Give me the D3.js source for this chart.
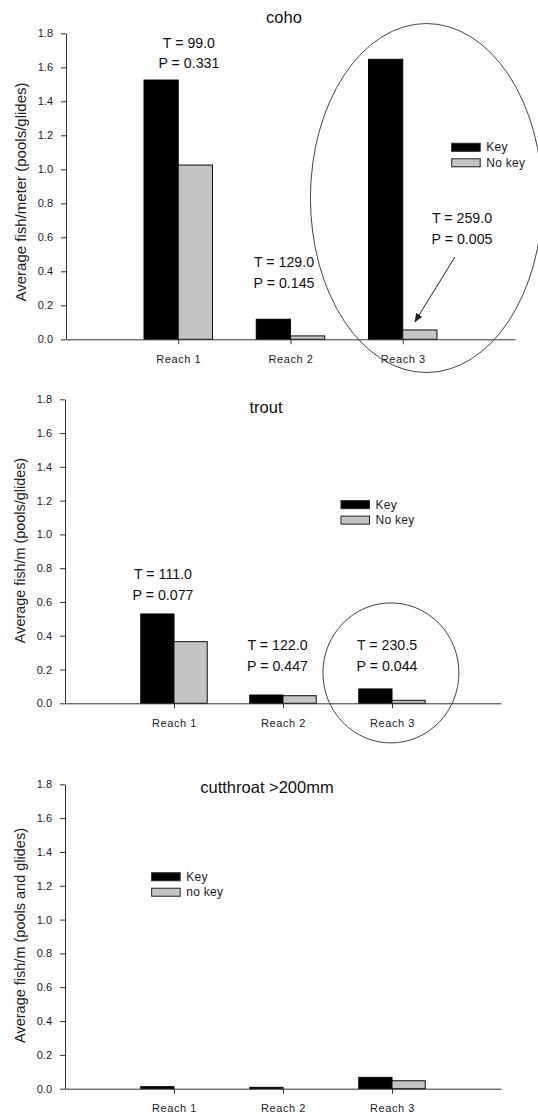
<!DOCTYPE html>
<html>
<head>
<meta charset="utf-8">
<script src="https://cdn.jsdelivr.net/npm/d3@7/dist/d3.min.js"></script>
<style>
  html, body { margin: 0; padding: 0; background: #fff; }
  svg { display: block; }
  .tick text { font-family: "Liberation Sans", Arial, sans-serif; fill: #1a1a2a; }
</style>
</head>
<body>
<svg id="chart" width="538" height="1114"></svg>
<script>
// ---------- data ----------
const reaches = ["Reach 1", "Reach 2", "Reach 3"];
const yTicks = [0, 0.2, 0.4, 0.6, 0.8, 1.0, 1.2, 1.4, 1.6, 1.8];

const cohoKey   = [1.525, 0.118, 1.647];
const cohoNoKey = [1.025, 0.020, 0.055];
const cohoT = ["T = 99.0", "T = 129.0", "T = 259.0"];
const cohoP = ["P = 0.331", "P = 0.145", "P = 0.005"];

const troutKey   = [0.529, 0.049, 0.085];
const troutNoKey = [0.365, 0.045, 0.018];
const troutT = ["T = 111.0", "T = 122.0", "T = 230.5"];
const troutP = ["P = 0.077", "P = 0.447", "P = 0.044"];

const cutKey   = [0.012, 0.008, 0.067];
const cutNoKey = [0.000, 0.000, 0.047];

const titles = ["coho", "trout", "cutthroat >200mm"];
const yTitles = ["Average fish/meter (pools/glides)", "Average fish/m (pools/glides)", "Average fish/m (pools and glides)"];
const legendLabels = [["Key", "No key"], ["Key", "No key"], ["Key", "no key"]];

// ---------- layout ----------
const svg = d3.select("#chart");
const defs = svg.append("defs");
defs.append("marker").attr("id", "arrow").attr("viewBox", "0 0 10 10")
  .attr("refX", 9).attr("refY", 5).attr("markerWidth", 9).attr("markerHeight", 9)
  .attr("orient", "auto").attr("markerUnits", "userSpaceOnUse")
  .append("path").attr("d", "M0,1 L10,5 L0,9 Z").attr("fill", "#222");

const KEY_FILL = "#000";
const NOKEY_FILL = "#c4c4c4";
const FONT = '"Liberation Sans", Arial, sans-serif';
const ANNOT_FONT = '"Liberation Sans", Arial, sans-serif';

const panels = [
  {
    key: cohoKey, noKey: cohoNoKey, T: cohoT, P: cohoP,
    x0: 66, x1: 515, yTop: 33.3, yBot: 339.3,
    title: { x: 284, y: 23 }, yTitle: { x: 20, y: 192 }, yTitleSize: 15,
    stats: [{ v: 1.095, y: 1.714 }, { v: 1.942, y: 0.425 }, { v: 3.528, y: 0.684 }],
    statGap: 20.5,
    legend: { v: 3.436, y: 1.153 },
    ellipse: { v: 3.211, y: 0.831, rx: 116, ry: 174.5 },
    arrow: { v1: 3.465, y1: 0.484, v2: 3.109, y2: 0.104 }
  },
  {
    key: troutKey, noKey: troutNoKey, T: troutT, P: troutP,
    x0: 65, x1: 501, yTop: 399.3, yBot: 703.3,
    title: { x: 266, y: 412.5 }, yTitle: { x: 20, y: 550.5 }, yTitleSize: 14.4,
    stats: [{ v: 0.899, y: 0.736 }, { v: 1.95, y: 0.316 }, { v: 2.954, y: 0.316 }],
    statGap: 21,
    legend: { v: 2.532, y: 1.2 },
    ellipse: { v: 2.99, y: 0.18, rx: 68, ry: 70 }
  },
  {
    key: cutKey, noKey: cutNoKey,
    x0: 65, x1: 501, yTop: 784.3, yBot: 1088.7,
    title: { x: 267, y: 792.5 }, yTitle: { x: 20, y: 935.5 }, yTitleSize: 14.5,
    legend: { v: 0.795, y: 1.277 }
  }
];

const BW = 0.305; // bar width in category units

panels.forEach((p, i) => {
  const g = svg.append("g");
  const x = d3.scaleLinear().domain([0, 4]).range([p.x0, p.x1]);
  const y = d3.scaleLinear().domain([0, 1.8]).range([p.yBot, p.yTop]);

  // bars
  const rows = reaches.map((r, j) => ({ r, j, k: p.key[j], n: p.noKey[j] }));
  g.selectAll(".kbar").data(rows).enter().append("rect")
    .attr("x", d => x(d.j + 1 - BW)).attr("width", d => x(d.j + 1) - x(d.j + 1 - BW))
    .attr("y", d => y(d.k)).attr("height", d => y(0) - y(d.k))
    .attr("fill", KEY_FILL).attr("stroke", "#000").attr("stroke-width", 1);
  g.selectAll(".nbar").data(rows.filter(d => d.n > 0)).enter().append("rect")
    .attr("x", d => x(d.j + 1)).attr("width", d => x(d.j + 1 + BW) - x(d.j + 1))
    .attr("y", d => y(d.n)).attr("height", d => y(0) - y(d.n))
    .attr("fill", NOKEY_FILL).attr("stroke", "#111").attr("stroke-width", 1);

  // y axis
  const ya = g.append("g").attr("transform", `translate(${p.x0},0)`)
    .call(d3.axisLeft(y).tickValues(yTicks).tickFormat(d3.format(".1f")).tickSize(5).tickPadding(8).tickSizeOuter(0));
  ya.select(".domain").attr("stroke", "#333");
  ya.selectAll(".tick line").attr("stroke", "#333");
  ya.selectAll(".tick text").attr("font-size", 11).attr("font-family", FONT);

  // x axis
  const xa = g.append("g").attr("transform", `translate(0,${p.yBot})`)
    .call(d3.axisBottom(x).tickValues([1, 2, 3]).tickFormat(d => reaches[d - 1]).tickSize(5).tickPadding(11).tickSizeOuter(0));
  xa.select(".domain").attr("stroke", "#333");
  xa.selectAll(".tick line").attr("stroke", "#333");
  xa.selectAll(".tick text").attr("font-size", 11).attr("font-family", FONT).attr("letter-spacing", "0.6px");

  // title
  g.append("text").attr("x", p.title.x).attr("y", p.title.y).attr("text-anchor", "middle")
    .attr("font-family", FONT).attr("font-size", 16.5).attr("fill", "#111").text(titles[i]);

  // y title
  g.append("text").attr("transform", `translate(${p.yTitle.x},${p.yTitle.y}) rotate(-90)`)
    .attr("text-anchor", "middle").attr("dominant-baseline", "central")
    .attr("font-family", FONT).attr("font-size", p.yTitleSize).attr("fill", "#222").text(yTitles[i]);

  // stats annotations
  if (p.stats) {
    p.stats.forEach((s, j) => {
      g.append("text").attr("x", x(s.v)).attr("y", y(s.y)).attr("text-anchor", "middle")
        .attr("font-family", ANNOT_FONT).attr("font-size", 14.2).attr("fill", "#111").text(p.T[j]);
      g.append("text").attr("x", x(s.v)).attr("y", y(s.y) + p.statGap).attr("text-anchor", "middle")
        .attr("font-family", ANNOT_FONT).attr("font-size", 14.2).attr("fill", "#111").text(p.P[j]);
    });
  }

  // legend
  const lx = x(p.legend.v), ly = y(p.legend.y);
  const lg = g.append("g").attr("transform", `translate(${lx},${ly})`);
  [KEY_FILL, NOKEY_FILL].forEach((c, j) => {
    lg.append("rect").attr("x", 0).attr("y", j * 15.5).attr("width", 28.5).attr("height", 8)
      .attr("fill", c).attr("stroke", "#222").attr("stroke-width", 1);
    lg.append("text").attr("x", 34.5).attr("y", j * 15.5 + 4).attr("dominant-baseline", "central")
      .attr("font-family", FONT).attr("font-size", 12).attr("letter-spacing", "0.3px")
      .attr("fill", "#1a1a2a").text(legendLabels[i][j]);
  });

  // ellipse
  if (p.ellipse) {
    g.append("ellipse").attr("cx", x(p.ellipse.v)).attr("cy", y(p.ellipse.y))
      .attr("rx", p.ellipse.rx).attr("ry", p.ellipse.ry)
      .attr("fill", "none").attr("stroke", "#444").attr("stroke-width", 1);
  }
  // arrow
  if (p.arrow) {
    g.append("line").attr("x1", x(p.arrow.v1)).attr("y1", y(p.arrow.y1))
      .attr("x2", x(p.arrow.v2)).attr("y2", y(p.arrow.y2))
      .attr("stroke", "#222").attr("stroke-width", 1).attr("marker-end", "url(#arrow)");
  }
});
</script>
</body>
</html>
